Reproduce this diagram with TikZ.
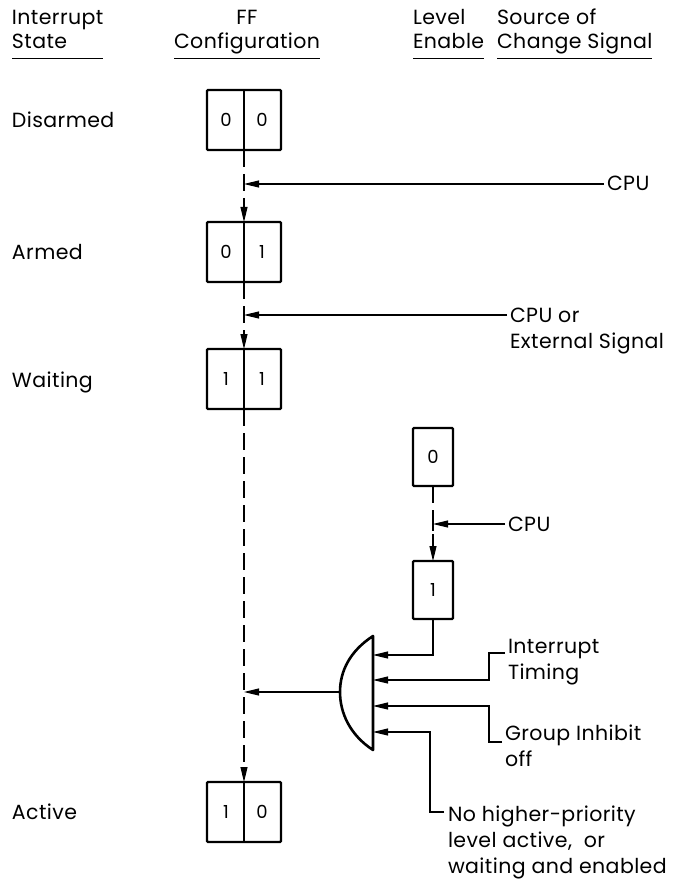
\documentclass[tikz,border=0pt]{standalone}
\usepackage{fontspec}
\setmainfont{Poppins}[LetterSpace=2]
\usetikzlibrary{arrows.meta}
\begin{document}
\begin{tikzpicture}[x=1pt,y=-1pt,
  every node/.style={font=\fontsize{20.5}{26}\selectfont, inner sep=0pt, outer sep=0pt},
  lbl/.style={anchor=base west},
  hdr/.style={anchor=base west, font=\fontsize{20.5}{24}\selectfont},
  ffbox/.style={draw, line width=2.4pt, minimum width=74pt, minimum height=60pt, rounded corners=1pt},
  lebox/.style={draw, line width=2.4pt, minimum width=40pt, minimum height=58pt, rounded corners=1pt},
  digit/.style={font=\fontsize{18}{20}\selectfont},
  sig/.style={line width=1.1pt},
  arr/.style={sig, -{Triangle[length=15pt,width=7pt]}},
  dline/.style={arr, dash pattern=on 17pt off 7pt},
  uline/.style={line width=1.2pt},
  gate/.style={line width=2.6pt, line join=round}
]
\useasboundingbox (0,0) rectangle (687,882);

% headers
\node[hdr] (h1) at (12,25) {\begin{tabular}[t]{@{}l@{}}Interrupt\\State\end{tabular}};
\node[hdr, anchor=base] (h2) at (247,25) {\begin{tabular}[t]{@{}c@{}}FF\\Configuration\end{tabular}};
\node[hdr] (h3) at (413,25) {\begin{tabular}[t]{@{}l@{}}Level\\Enable\end{tabular}};
\node[hdr] (h4) at (497,25) {\begin{tabular}[t]{@{}l@{}}Source of\\Change Signal\end{tabular}};
\foreach \h in {h1,h2,h3,h4}
  \draw[uline] ([yshift=-2pt]\h.south west) -- ([yshift=-2pt]\h.south east);

% state labels
\node[lbl] (sDis) at (12,128) {Disarmed};
\node[lbl] (sArm) at (12,260) {Armed};
\node[lbl] (sWai) at (12,387) {Waiting};
\node[lbl] (sAct) at (12,819) {Active};

% FF boxes
\foreach \n/\y/\a/\b in {b1/120/0/0, b2/252/0/1, b3/379/1/1, b4/812/1/0}{
  \node[ffbox] (\n) at (244,\y) {};
  \draw[line width=2pt] (\n.north) -- (\n.south);
  \node[digit] at ([xshift=-18pt]\n.center) {\a};
  \node[digit] at ([xshift=18pt]\n.center) {\b};
}

% level enable boxes
\node[lebox] (l1) at (433,457) {};
\node[digit] at (l1.center) {0};
\node[lebox] (l2) at (433,590) {};
\node[digit] at (l2.center) {1};

% source texts
\node[lbl] (cpuA) at (607,191) {CPU};
\node[lbl] (cpuB) at (510,322) {\begin{tabular}[t]{@{}l@{}}CPU or\\External Signal\end{tabular}};
\node[lbl] (cpuC) at (508,531) {CPU};
\node[lbl] (tim) at (508,653) {\begin{tabular}[t]{@{}l@{}}Interrupt\\Timing\end{tabular}};
\node[lbl] (grp) at (505,740) {\begin{tabular}[t]{@{}l@{}}Group Inhibit\\off\end{tabular}};
\node[lbl] (nhp) at (448,821) {\begin{tabular}[t]{@{}l@{}}No higher-priority\\level active,~ or\\waiting and enabled\end{tabular}};

% junctions
\coordinate (jA) at (244,184);
\coordinate (jB) at (244,315);
\coordinate (jC) at (433,524);

% dashed state path
\draw[dline] (b1.south) -- (b2.north);
\draw[dline] (b2.south) -- (b3.north);
\draw[dline] (b3.south) -- (b4.north);
\draw[dline] (l1.south) -- (l2.north);

% change signal arrows
\draw[arr] ([xshift=-3pt,yshift=7pt]cpuA.base west) -- (jA);
\draw[sig] ([yshift=7pt]jA) -- ([yshift=-7pt]jA);
\draw[arr] ([xshift=-3pt,yshift=7pt]cpuB.base west) -- (jB);
\draw[sig] ([yshift=7pt]jB) -- ([yshift=-7pt]jB);
\draw[arr] ([xshift=-3pt,yshift=7pt]cpuC.base west) -- (jC);
\draw[sig] ([yshift=7pt]jC) -- ([yshift=-7pt]jC);

% gate
\coordinate (gT) at (373,636);
\coordinate (gB) at (373,750);
\coordinate (gL) at (340,692);
\draw[gate] (gT) .. controls (350,651) and (340,671) .. (gL) .. controls (340,713) and (350,735) .. (gB) -- cycle;
\coordinate (g1) at (373,655);
\coordinate (g2) at (373,680);
\coordinate (g3) at (373,706);
\coordinate (g4) at (373,732);

\draw[arr] (l2.south) |- (g1);
\draw[arr] ([xshift=-3pt]tim.base west) -- ++(-16,0) |- (g2);
\draw[arr] ([xshift=-3pt,yshift=-2pt]grp.base west) -- ++(-13,0) |- (g3);
\draw[arr] ([xshift=-4pt,yshift=9pt]nhp.base west) -- ++(-14,0) |- (g4);

% output
\draw[arr] (gL) -- (gL -| b3.south);
\end{tikzpicture}
\end{document}
